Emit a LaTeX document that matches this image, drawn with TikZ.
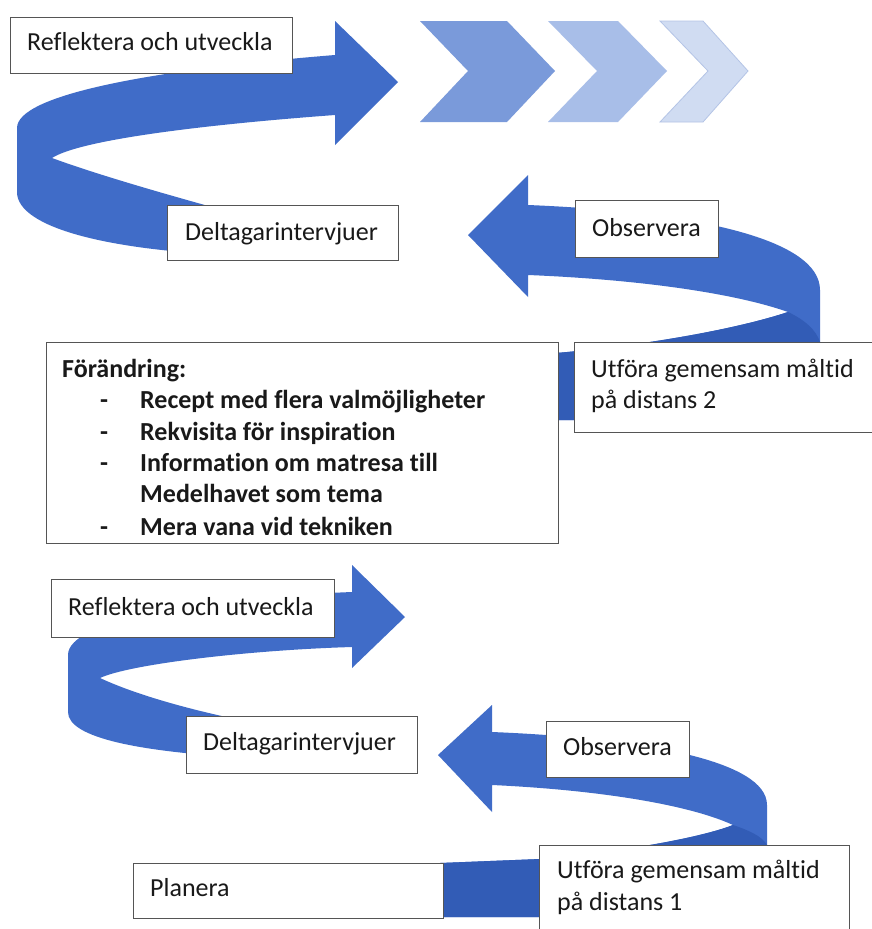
\documentclass[tikz,border=0pt]{standalone}
\usepackage{fontspec}
\setmainfont{Carlito}[Ligatures=NoCommon]
\definecolor{rib}{RGB}{64,108,200}
\definecolor{ribdark}{RGB}{50,92,182}
\definecolor{chevA}{RGB}{122,154,218}
\definecolor{chevB}{RGB}{168,190,232}
\definecolor{chevC}{RGB}{208,220,242}
\definecolor{chevCline}{RGB}{180,196,230}
\definecolor{boxline}{RGB}{85,85,85}
\definecolor{ink}{RGB}{25,25,25}
\begin{document}
\begin{tikzpicture}[x=1pt,y=-1pt,
  box/.style={draw=boxline, line width=1.1pt, fill=white, anchor=north west, inner sep=0pt},
  txt/.style={anchor=base west, inner sep=0pt, text=ink, font=\fontsize{26}{31}\selectfont},
  btxt/.style={anchor=base west, inner sep=0pt, text=ink, font=\fontsize{26}{31}\selectfont\bfseries},
  ribbon/.style={fill=rib, draw=none},
  front/.style={fill=ribdark, draw=none}]
\useasboundingbox (0,0) rectangle (872,929);
\clip (0,0) rectangle (872,929);
\fill[white] (0,0) rectangle (872,929);

% chevrons
\fill[chevA] (420,21) -- (507,21) -- (555,71) -- (507,122) -- (420,122) -- (468,71) -- cycle;
\fill[chevB] (548,21) -- (618,21) -- (667,71) -- (618,122) -- (548,122) -- (597,71) -- cycle;
\filldraw[fill=chevC, draw=chevCline, line width=0.8pt] (660,21) -- (703,21) -- (748,71) -- (703,122) -- (660,122) -- (708,71) -- cycle;

% top-left ribbon arrow (upper section)
\path[ribbon] (398,82) -- (335,21) -- (335,55) .. controls (150,70) and (17,95) .. (17,128)
  -- (17,192) .. controls (17,228) and (110,250) .. (230,255)
  -- (230,212) .. controls (150,190) and (90,172) .. (52,158)
  .. controls (80,140) and (200,125) .. (335,115) -- (335,145) -- cycle;

% right ribbon arrow (upper section)
\path[ribbon] (468,235) -- (528,175) -- (528,205) .. controls (700,212) and (820,240) .. (820,290)
  -- (820,420) -- (556,420) -- (556,353) .. controls (650,345) and (740,328) .. (788,312)
  .. controls (740,295) and (650,280) .. (528,275) -- (528,297) -- cycle;
\path[front] (788,312) .. controls (805,320) and (816,330) .. (820,342)
  -- (820,420) -- (556,420) -- (556,353) .. controls (650,345) and (740,328) .. (788,312) -- cycle;

% top-left ribbon arrow (lower section)
\path[ribbon] (405,617) -- (352,565) -- (352,592) .. controls (200,598) and (68,620) .. (68,655)
  -- (68,712) .. controls (68,738) and (140,752) .. (250,758)
  -- (250,722) .. controls (180,708) and (130,692) .. (100,678)
  .. controls (130,664) and (250,650) .. (352,647) -- (352,668) -- cycle;

% right ribbon arrow (lower section)
\path[ribbon] (438,755) -- (492,705) -- (492,732) .. controls (640,738) and (767,760) .. (767,805)
  -- (767,917) -- (440,917) -- (440,863) -- (540,859) .. controls (620,852) and (700,838) .. (733,825)
  .. controls (690,805) and (600,790) .. (492,785) -- (492,812) -- cycle;
\path[front] (733,825) .. controls (748,830) and (762,836) .. (767,845)
  -- (767,917) -- (440,917) -- (440,863) -- (540,859) .. controls (620,852) and (700,838) .. (733,825) -- cycle;

% boxes
\node[box, minimum width=282pt, minimum height=56pt] (b1) at (10,17) {};
\node[txt] (t1) at (27,50) {Reflektera och utveckla};

\node[box, minimum width=231pt, minimum height=55pt] (b2) at (167,205) {};
\node[txt] (t2) at (185,240) {Deltagarintervjuer};

\node[box, minimum width=143pt, minimum height=57pt] (b3) at (575,200) {};
\node[txt] (t3) at (592,236) {Observera};

\node[box, minimum width=310pt, minimum height=90pt] (b4) at (574,342) {};
\node[txt] (t4a) at (591,377) {Utföra gemensam måltid};
\node[txt] (t4b) at (591,408) {på distans 2};

\node[box, minimum width=512pt, minimum height=201pt] (b5) at (46,342) {};
\node[btxt] (f0) at (62,377) {Förändring:};
\node[btxt] (d1) at (100,408) {-};
\node[btxt] (f1) at (140,408) {Recept med flera valmöjligheter};
\node[btxt] (d2) at (100,440) {-};
\node[btxt] (f2) at (140,440) {Rekvisita för inspiration};
\node[btxt] (d3) at (100,471) {-};
\node[btxt] (f3) at (140,471) {Information om matresa till};
\node[btxt] (f4) at (140,502) {Medelhavet som tema};
\node[btxt] (d5) at (100,535) {-};
\node[btxt] (f5) at (140,535) {Mera vana vid tekniken};

\node[box, minimum width=283pt, minimum height=58pt] (b6) at (51,579) {};
\node[txt] (t6) at (68,615) {Reflektera och utveckla};

\node[box, minimum width=231pt, minimum height=57pt] (b7) at (186,716) {};
\node[txt] (t7) at (203,750) {Deltagarintervjuer};

\node[box, minimum width=143pt, minimum height=56pt] (b8) at (546,721) {};
\node[txt] (t8) at (563,755) {Observera};

\node[box, minimum width=310pt, minimum height=55pt] (b9) at (133,863) {};
\node[txt] (t9) at (150,896) {Planera};

\node[box, minimum width=310pt, minimum height=95pt] (b10) at (539,845) {};
\node[txt] (t10a) at (557,878) {Utföra gemensam måltid};
\node[txt] (t10b) at (557,910) {på distans 1};
\end{tikzpicture}
\end{document}
